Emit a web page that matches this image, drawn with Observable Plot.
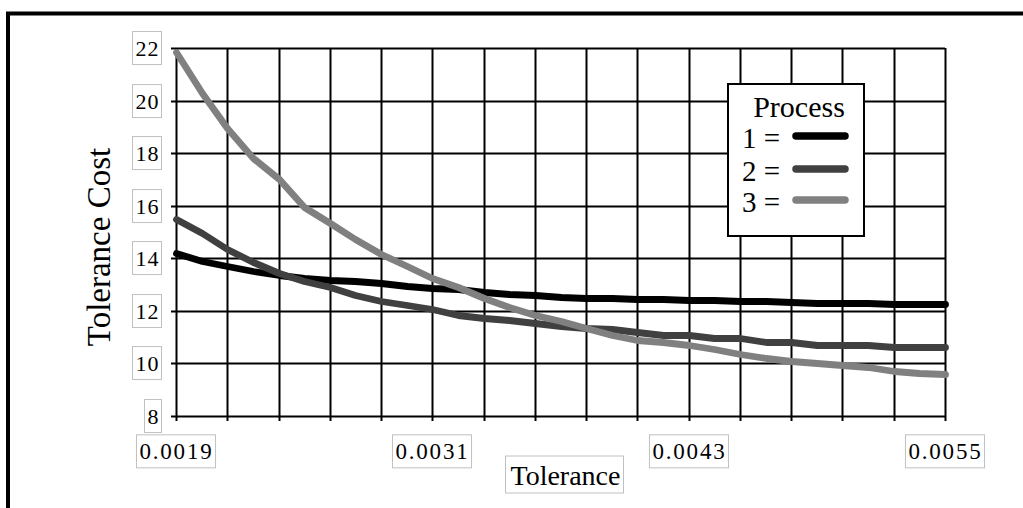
<!DOCTYPE html>
<html><head><meta charset="utf-8">
<script src="https://cdn.jsdelivr.net/npm/d3@7"></script>
<script src="https://cdn.jsdelivr.net/npm/@observablehq/plot@0.6"></script>
<style>
html,body{margin:0;padding:0;background:#fff;overflow:hidden;width:1023px;height:508px;}
#chart{position:relative;width:1023px;height:508px;}
#chart svg, #chart svg text{font-family:"Liberation Serif","Times New Roman",serif !important;}
</style></head><body><div id="chart"></div>
<script>
// Tolerance sample points (x)
const tolerance = [0.00190,0.00202,0.00214,0.00226,0.00238,0.00250,0.00262,0.00274,0.00286,0.00298,
  0.00310,0.00322,0.00334,0.00346,0.00358,0.00370,0.00382,0.00394,0.00406,0.00418,
  0.00430,0.00442,0.00454,0.00466,0.00478,0.00490,0.00502,0.00514,0.00526,0.00538,0.00550];
// Tolerance cost per process
const cost1 = [14.2,13.88,13.7,13.5,13.35,13.25,13.17,13.12,13.07,12.95,
  12.88,12.85,12.72,12.65,12.62,12.52,12.5,12.48,12.47,12.45,
  12.42,12.4,12.38,12.36,12.34,12.3,12.28,12.28,12.27,12.26,12.26];
const cost2 = [15.5,14.95,14.35,13.86,13.45,13.15,12.9,12.62,12.36,12.22,
  12.07,11.86,11.74,11.64,11.55,11.42,11.36,11.3,11.18,11.1,
  11.08,10.98,10.95,10.82,10.8,10.72,10.7,10.7,10.64,10.62,10.62];
const cost3 = [21.85,20.3,18.95,17.8,17.0,15.95,15.34,14.72,14.15,13.7,
  13.25,12.9,12.5,12.15,11.85,11.6,11.35,11.08,10.9,10.8,
  10.7,10.55,10.35,10.2,10.1,10.03,9.95,9.85,9.7,9.62,9.6];
const processes = ["1","2","3"];
const processColors = ["#000000","#404040","#808080"];
// Axes
const xGrid = [0.0019,0.00214,0.00238,0.00262,0.00286,0.0031,0.00334,0.00358,0.00382,0.00406,
  0.0043,0.00454,0.00478,0.00502,0.00526,0.0055];
const xLabelTicks = [0.0019,0.0031,0.0043,0.0055];
const xTickLabels = ["0.0019","0.0031","0.0043","0.0055"];
const yTicks = [8,10,12,14,16,18,20,22];
const xTitle = "Tolerance";
const yTitle = "Tolerance Cost";
const legendTitle = "Process";

const costs = [cost1, cost2, cost3];
const rows = [];
processes.forEach((p, k) => tolerance.forEach((t, i) => rows.push({process: p, tolerance: t, cost: costs[k][i]})));

const FONT = '"Liberation Serif","Times New Roman",serif';
const plot = Plot.plot({
  width: 1023, height: 508,
  marginLeft: 176, marginRight: 78, marginTop: 48, marginBottom: 92,
  style: {fontFamily: FONT, fontSize: "22px", color: "#000", background: "transparent", overflow: "visible"},
  x: {domain: [0.0019, 0.0055], round: true},
  y: {domain: [8, 22], round: true},
  color: {domain: processes, range: processColors},
  marks: [
    Plot.gridX(xGrid, {stroke: "#000", strokeOpacity: 1, strokeWidth: 2}),
    Plot.gridY(yTicks, {stroke: "#000", strokeOpacity: 1, strokeWidth: 2}),
    Plot.axisX(xGrid, {tickSize: 5, tickPadding: 21, strokeWidth: 2, label: null,
      tickFormat: d => { const i = xLabelTicks.findIndex(v => Math.abs(v - d) < 1e-9); return i < 0 ? "" : xTickLabels[i]; }}),
    Plot.axisY(yTicks, {tickSize: 5, tickPadding: 12, strokeWidth: 2, label: null, tickFormat: d => String(d)}),
    Plot.line(rows, {x: "tolerance", y: "cost", stroke: "process", z: "process",
      strokeWidth: 6.8, strokeLinecap: "round", strokeLinejoin: "round"})
  ]
});
document.getElementById("chart").appendChild(plot);

const svg = d3.select(plot);
const xs = plot.scale("x"), ys = plot.scale("y");

// tick label boxes
function boxLabels(sel, size, spacing) {
  svg.selectAll(sel).each(function() {
    const t = d3.select(this);
    t.attr("letter-spacing", spacing).attr("font-size", size);
    if (!this.textContent) return;
    const b = this.getBBox();
    d3.select(this.parentNode).insert("rect", () => this)
      .attr("transform", t.attr("transform"))
      .attr("x", b.x - 3).attr("y", b.y - 4).attr("width", b.width + 5).attr("height", b.height + 8)
      .attr("fill", "#fff").attr("stroke", "#c0c0c0").attr("stroke-width", 1);
  });
}
boxLabels('g[aria-label="x-axis tick label"] text', 23, 1.8);
boxLabels('g[aria-label="y-axis tick label"] text', 22, 1);

// outer frame
svg.append("rect").attr("x", 8).attr("y", 13.5).attr("width", 1100).attr("height", 600)
  .attr("fill", "none").attr("stroke", "#000").attr("stroke-width", 4);

// x title with box
const xt = svg.append("text").attr("x", (xs.range[0] + xs.range[1]) / 2 + 5).attr("y", 485)
  .attr("text-anchor", "middle").attr("font-size", 28).attr("fill", "#000").text(xTitle);
const xb = xt.node().getBBox();
svg.insert("rect", () => xt.node()).attr("x", xb.x - 5).attr("y", xb.y - 4).attr("width", xb.width + 8).attr("height", xb.height + 6)
  .attr("fill", "#fff").attr("stroke", "#c0c0c0").attr("stroke-width", 1);

// y title
svg.append("text").attr("transform", `translate(110,${(ys.range[0] + ys.range[1]) / 2 + 15}) rotate(-90)`)
  .attr("text-anchor", "middle").attr("font-size", 33).attr("fill", "#000").text(yTitle);

// legend
const lg = svg.append("g").attr("fill", "#000");
lg.append("rect").attr("x", 728).attr("y", 84).attr("width", 136).attr("height", 152)
  .attr("fill", "#fff").attr("stroke", "#000").attr("stroke-width", 2);
lg.append("text").attr("x", 799).attr("y", 117).attr("text-anchor", "middle").attr("font-size", 30).text(legendTitle);
const rowBase = [148, 181, 212];
processes.forEach((p, i) => {
  lg.append("text").attr("x", 742).attr("y", rowBase[i]).attr("text-anchor", "start").attr("font-size", 29).text(p + " =");
  lg.append("line").attr("x1", 796).attr("x2", 845).attr("y1", rowBase[i] - 12).attr("y2", rowBase[i] - 12)
    .attr("stroke", processColors[i]).attr("stroke-width", 7.5).attr("stroke-linecap", "round");
});
</script></body></html>
